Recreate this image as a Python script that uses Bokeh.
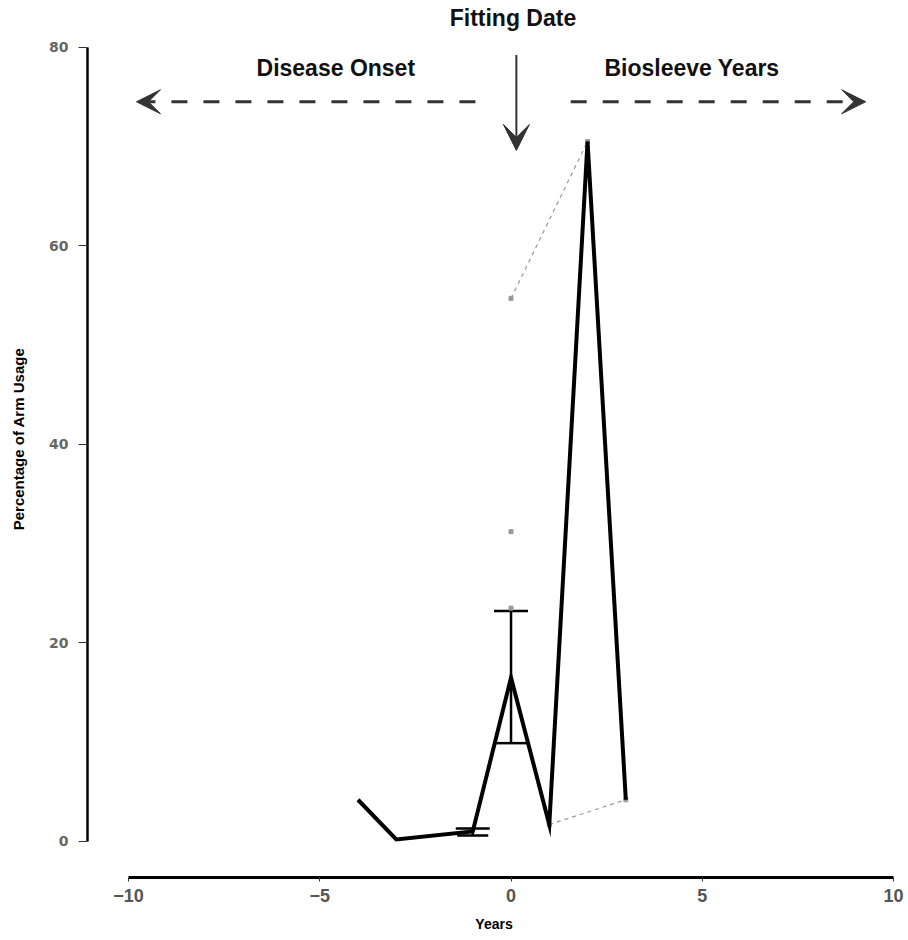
from bokeh.plotting import figure
from bokeh.models import Range1d, FixedTicker, Arrow, VeeHead, Label, ColumnDataSource, Whisker, TeeHead, Title
from bokeh.embed import file_html
from bokeh.resources import INLINE

# ---- data ----
years = [-4, -3, -1, 0, 1, 2, 3]
mean_usage = [4.2, 0.2, 1.0, 16.5, 1.7, 70.5, 4.2]

err_years = [-1, 0]
err_lower = [0.6, 9.9]
err_upper = [1.3, 23.2]

subj_a_years = [0, 2]
subj_a_usage = [54.7, 70.5]
subj_b_years = [1, 3]
subj_b_usage = [1.7, 4.2]
extra_years = [0, 0]
extra_usage = [31.2, 23.5]

x_ticks = [-10, -5, 0, 5, 10]
y_ticks = [0, 20, 40, 60, 80]

FONT = "Liberation Sans"

p = figure(width=908, height=940, output_backend="svg", toolbar_location=None,
           x_range=Range1d(-11.07, 10.18), y_range=Range1d(-3.63, 84.7),
           min_border_left=87, min_border_right=8, min_border_top=0, min_border_bottom=63)
p.outline_line_color = None
p.grid.grid_line_color = None
p.background_fill_color = "white"

# axes
xa = p.xaxis[0]
xa.bounds = (-10, 10)
xa.ticker = FixedTicker(ticks=x_ticks)
xa.axis_line_width = 3
xa.axis_line_color = "black"
xa.major_tick_line_color = "#333333"
xa.major_tick_out = 4
xa.major_tick_in = 0
xa.minor_tick_line_color = None
xa.major_label_text_font = FONT
xa.major_label_text_font_style = "bold"
xa.major_label_text_font_size = "18px"
xa.major_label_text_color = "#555555"
xa.major_label_standoff = 7

ya = p.yaxis[0]
ya.bounds = (0, 80)
ya.ticker = FixedTicker(ticks=y_ticks)
ya.axis_line_width = 2.5
ya.axis_line_color = "black"
ya.major_tick_line_color = "#333333"
ya.major_tick_out = 9
ya.major_tick_in = 0
ya.minor_tick_line_color = None
ya.major_label_text_font = "DejaVu Sans"
ya.major_label_text_font_style = "bold"
ya.major_label_text_font_size = "14px"
ya.major_label_text_color = "#666666"
ya.major_label_standoff = 10
ya.axis_label = "Percentage of Arm Usage"
ya.axis_label_text_font = FONT
ya.axis_label_text_font_style = "bold"
ya.axis_label_text_font_size = "15px"
ya.axis_label_text_color = "black"
ya.axis_label_standoff = 19

# x axis title, shifted so it sits under year 0
frame_center_px = 87 + (908 - 87 - 8) / 2
zero_px = 87 + (0 - (-11.07)) / (10.18 - (-11.07)) * (908 - 87 - 8)
p.add_layout(Title(text="Years", align="center", offset=zero_px - frame_center_px,
                   text_font=FONT, text_font_style="bold", text_font_size="14px",
                   text_color="black", standoff=18), "below")

# individual (grey dashed) series
p.line(subj_a_years, subj_a_usage, line_color="#999999", line_width=1.2, line_dash="4 4")
p.line(subj_b_years, subj_b_usage, line_color="#999999", line_width=1.2, line_dash="4 4")
p.scatter(subj_a_years + subj_b_years + extra_years, subj_a_usage + subj_b_usage + extra_usage,
          marker="square", size=4, color="#999999")

# error bars
src = ColumnDataSource(dict(x=err_years, lower=err_lower, upper=err_upper))
w = Whisker(base="x", lower="lower", upper="upper", source=src, line_width=2.5, line_color="black",
            upper_head=TeeHead(size=34, line_width=2.5, line_color="black"),
            lower_head=TeeHead(size=31, line_width=2.5, line_color="black"))
p.add_layout(w)

# mean line
p.line(years, mean_usage, line_color="black", line_width=4, line_join="miter")

# annotations
ARROW_C = "#333333"
p.add_layout(Arrow(x_start=-0.93, y_start=74.5, x_end=-9.79, y_end=74.5,
                   line_color=ARROW_C, line_width=3, line_dash="16 16",
                   end=VeeHead(size=24, fill_color=ARROW_C, line_color=ARROW_C, line_width=1)))
p.add_layout(Arrow(x_start=1.56, y_start=74.5, x_end=9.27, y_end=74.5,
                   line_color=ARROW_C, line_width=3, line_dash="16 16",
                   end=VeeHead(size=24, fill_color=ARROW_C, line_color=ARROW_C, line_width=1)))
p.add_layout(Arrow(x_start=0.14, y_start=79.2, x_end=0.14, y_end=69.6,
                   line_color=ARROW_C, line_width=2,
                   end=VeeHead(size=26, fill_color=ARROW_C, line_color=ARROW_C, line_width=1)))

for txt, x, y in [("Fitting Date", 0.05, 82.9), ("Disease Onset", -4.58, 77.9), ("Biosleeve Years", 4.73, 77.9)]:
    p.add_layout(Label(x=x, y=y, text=txt, text_align="center", text_baseline="middle",
                       text_font=FONT, text_font_style="bold", text_font_size="23px", text_color="#111111"))

open("out.html", "w").write(file_html(p, INLINE))
